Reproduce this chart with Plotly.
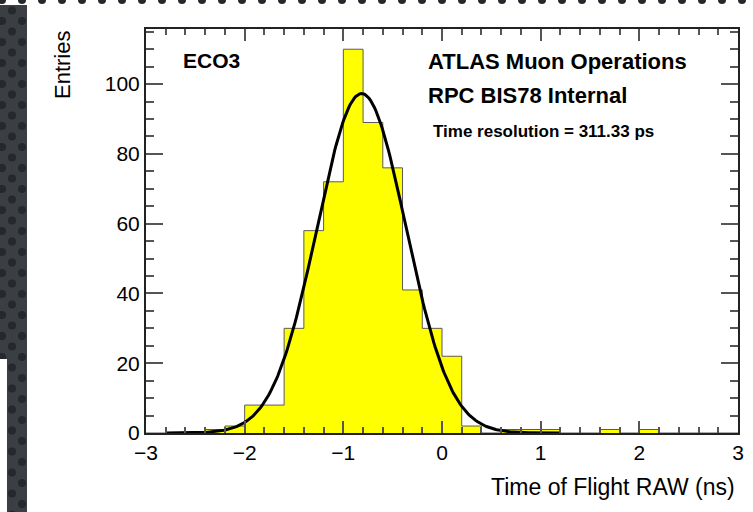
import numpy as np
import plotly.graph_objects as go

W, H = 753, 512

# Histogram: lower bin edges (ns) and counts, bin width 0.2 ns
bin_lo = [-3.0, -2.8, -2.6, -2.4, -2.2, -2.0, -1.8, -1.6, -1.4, -1.2,
          -1.0, -0.8, -0.6, -0.4, -0.2, 0.0, 0.2, 0.4, 0.6, 0.8,
          1.0, 1.2, 1.4, 1.6, 1.8, 2.0, 2.2, 2.4, 2.6, 2.8]
counts = [0, 0, 0, 1, 2, 8, 8, 30, 58, 72,
          110, 89, 76, 41, 30, 22, 2, 0, 1, 1,
          1, 0, 0, 1, 0, 1, 0, 0, 0, 0]
bin_w = 0.2

# Gaussian fit parameters
fit_amp = 97.3
fit_mean = -0.815
fit_sigma = 0.45
fit_range = (-2.8, 1.2)


def px(x):
    return x / W


def py(y):
    return 1 - y / H


# step outline of the histogram (last edge closes the final bin)
step_x = bin_lo + [bin_lo[-1] + bin_w]
step_y = counts + [counts[-1]]

xf = np.linspace(fit_range[0], fit_range[1], 300)
yf = fit_amp * np.exp(-0.5 * ((xf - fit_mean) / fit_sigma) ** 2)

fig = go.Figure()

# decorative dotted backdrop (left and top strips)
gx, gy = [], []
for i in range(0, 80):
    cx = 2 + 10 * i
    off = 0 if i % 2 == 0 else 10.5
    for j in range(-1, 26):
        gx.append(cx)
        gy.append(off + 21 * j)
for xa, ya in (("x3", "y3"), ("x4", "y4")):
    fig.add_trace(go.Scatter(x=gx, y=gy, mode="markers", xaxis=xa, yaxis=ya,
                             marker=dict(size=8, color="#25282c", line=dict(width=0)),
                             hoverinfo="skip", cliponaxis=True))

fig.add_trace(go.Scatter(x=step_x, y=step_y, mode="lines", line_shape="hv",
                         fill="tozeroy", fillcolor="#ffff00",
                         line=dict(color="#5a5a5a", width=1)))
fig.add_trace(go.Scatter(x=xf, y=yf, mode="lines", line=dict(color="black", width=3)))

axfont = dict(family="Liberation Sans, Arial, sans-serif", size=21, color="black")
common = dict(showline=True, linecolor="#222222", linewidth=2, mirror="allticks",
              ticks="inside", tickcolor="#555555", tickwidth=2, automargin=False,
              showgrid=False, zeroline=False, tickfont=axfont, layer="above traces")
hidden = dict(visible=False, automargin=False, showgrid=False, zeroline=False)

fig.update_layout(
    width=W, height=H,
    margin=dict(l=0, r=0, t=0, b=0, pad=0, autoexpand=False),
    paper_bgcolor="white", plot_bgcolor="white", showlegend=False,
    xaxis=dict(domain=[px(146), px(738)], range=[-3, 3], tickmode="linear",
               tick0=-3, dtick=1, ticklen=12,
               minor=dict(tickmode="linear", dtick=bin_w, tick0=-3, ticklen=6,
                          ticks="inside", tickcolor="#555555", tickwidth=1.5),
               **common),
    yaxis=dict(domain=[py(433), py(29)], range=[0, 115.8], tickmode="linear",
               tick0=0, dtick=20, ticklen=17,
               minor=dict(tickmode="linear", dtick=5, tick0=0, ticklen=8,
                          ticks="inside", tickcolor="#555555", tickwidth=1.5),
               **common),
    xaxis3=dict(domain=[0, px(27)], range=[0, 27], anchor="y3", **hidden),
    yaxis3=dict(domain=[0, 1], range=[H, 0], anchor="x3", **hidden),
    xaxis4=dict(domain=[0, 1], range=[0, W], anchor="y4", **hidden),
    yaxis4=dict(domain=[py(5), 1], range=[5, 0], anchor="x4", **hidden),
)

fig.update_layout(shapes=[
    dict(type="rect", xref="paper", yref="paper", x0=0, x1=px(27), y0=0, y1=1,
         fillcolor="#3b3e43", line=dict(width=0), layer="below"),
    dict(type="rect", xref="paper", yref="paper", x0=0, x1=1, y0=py(5), y1=1,
         fillcolor="#3b3e43", line=dict(width=0), layer="below"),
    dict(type="rect", xref="paper", yref="paper", x0=0, x1=px(7), y0=0, y1=py(359),
         fillcolor="white", line=dict(width=0), layer="above"),
])

txt = "Liberation Sans, Arial, sans-serif"
ann = [
    dict(text="<b>ECO3</b>", x=px(181), y=py(60), xanchor="left", yanchor="middle",
         font=dict(family=txt, size=21, color="black")),
    dict(text="<b>ATLAS Muon Operations</b>", x=px(426), y=py(61), xanchor="left",
         yanchor="middle", font=dict(family=txt, size=22, color="black")),
    dict(text="<b>RPC BIS78 Internal</b>", x=px(426), y=py(95), xanchor="left",
         yanchor="middle", font=dict(family=txt, size=22, color="black")),
    dict(text="<b>Time resolution = 311.33 ps</b>", x=px(431), y=py(131), xanchor="left",
         yanchor="middle", font=dict(family=txt, size=17, color="black")),
    dict(text="Entries", x=px(62), y=py(29), xanchor="center", yanchor="top",
         textangle=-90, font=dict(family=txt, size=22, color="black")),
    dict(text="Time of Flight RAW (ns)", x=px(737), y=py(487), xanchor="right",
         yanchor="middle", font=dict(family=txt, size=23, color="black")),
]
for a in ann:
    a.update(xref="paper", yref="paper", showarrow=False)
fig.update_layout(annotations=ann)

fig.write_html("out.html")
